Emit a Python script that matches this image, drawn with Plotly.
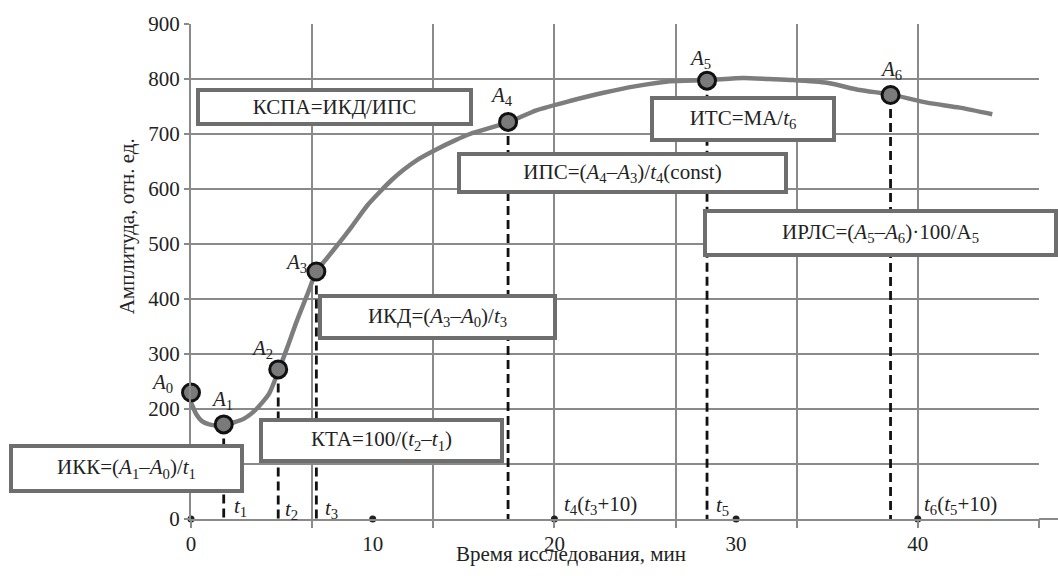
import plotly.graph_objects as go

# Measured amplitude curve (time, min -> amplitude, rel. units)
curve_t = [0, 0.3, 0.6, 1.0, 1.4, 1.8, 2.3, 2.9, 3.6, 4.3, 4.8, 5.3, 5.8, 6.4, 6.9,
           7.5, 8.2, 8.9, 9.7, 10.4, 11.0, 11.7, 12.5, 13.5, 14.5, 15.35, 17.45, 19.0,
           20.85, 22.7, 24.5, 26.35, 28.4, 30.4, 31.8, 33.1, 35.0, 36.8, 38.5, 40.5,
           42.3, 44.1]
curve_v = [212, 190, 178, 172, 170, 171, 175, 182, 200, 228, 268, 312, 358, 408, 450,
           475, 504, 534, 570, 595, 615, 635, 654, 672, 688, 700, 721, 743,
           760, 775, 787, 796, 798, 802, 800, 798, 793, 780, 772, 757,
           748, 736]

# Characteristic points A0..A6
point_names = ["A0", "A1", "A2", "A3", "A4", "A5", "A6"]
point_t = [0, 1.8, 4.8, 6.9, 17.45, 28.4, 38.5]
point_v = [230, 172, 272, 450, 722, 797, 771]

# Axis ticks
x_ticks = [0, 10, 20, 30, 40]
y_ticks = [0, 100, 200, 300, 400, 500, 600, 700, 800, 900]
grid_step = 20 / 3

SERIF = "'Liberation Serif', 'Times New Roman', Times, serif"
L, T, R, B = 191, 15, 1039, 519   # plot area in pixels


def px(x):
    return (x - L) / (R - L)


def py(y):
    return (B - y) / (B - T)


fig = go.Figure()

# dashed drop lines t1..t6
for t, v in zip(point_t[1:], point_v[1:]):
    fig.add_trace(go.Scatter(x=[t, t], y=[v, 0], mode="lines",
                             line=dict(color="#111", width=2.8, dash="9px,5px"),
                             hoverinfo="skip", showlegend=False))

# amplitude curve
fig.add_trace(go.Scatter(x=curve_t, y=curve_v, mode="lines",
                         line=dict(color="#7d7d7d", width=4.5, shape="spline", smoothing=0.6),
                         showlegend=False))

# characteristic points
fig.add_trace(go.Scatter(x=point_t, y=point_v, mode="markers",
                         marker=dict(size=17, color="#7a7a7a", line=dict(color="#111", width=3)),
                         cliponaxis=False, showlegend=False))

# dots on the time axis
fig.add_trace(go.Scatter(x=x_ticks, y=[0] * len(x_ticks), mode="markers",
                         marker=dict(size=7, color="#222"), cliponaxis=False, showlegend=False))

# helper trace for the grid axis
fig.add_trace(go.Scatter(x=[0], y=[0], xaxis="x2", mode="markers",
                         marker=dict(opacity=0), hoverinfo="skip", showlegend=False))

fig.update_layout(
    width=1058, height=576,
    margin=dict(l=L, r=1058 - R, t=T, b=576 - B),
    paper_bgcolor="white", plot_bgcolor="white",
    font=dict(family=SERIF, size=21, color="#222"),
    xaxis=dict(range=[0, 46.67], tickvals=x_ticks, showgrid=False, zeroline=False,
               showline=True, linecolor="#8a8a8a", linewidth=2,
               ticks="outside", ticklen=5, tickcolor="rgba(0,0,0,0)",
               tickfont=dict(family=SERIF, size=21, color="#222")),
    xaxis2=dict(range=[0, 46.67], overlaying="x", tick0=0, dtick=grid_step,
                showticklabels=False, showgrid=True, gridcolor="#8a8a8a", gridwidth=1.5,
                ticks="outside", ticklen=8, tickcolor="#8a8a8a", tickwidth=1.5,
                zeroline=False, side="bottom"),
    yaxis=dict(range=[0, 900], tickvals=y_ticks, showgrid=True, gridcolor="#8a8a8a",
               gridwidth=1.5, zeroline=False, showline=True, linecolor="#8a8a8a", linewidth=2,
               ticks="outside", ticklen=5, tickcolor="#8a8a8a", tickwidth=1.5,
               tickfont=dict(family=SERIF, size=21, color="#222")),
)

# extension of the time axis beyond the grid
fig.add_shape(type="line", xref="paper", yref="paper", x0=1, x1=px(1058), y0=0, y1=0,
              line=dict(color="#8a8a8a", width=2))


def label(text, x, y, size=21, **kw):
    fig.add_annotation(text=text, xref="paper", yref="paper", x=px(x), y=py(y),
                       xanchor="center", yanchor="middle", showarrow=False,
                       font=dict(family=SERIF, size=size, color="#222"), **kw)


# axis titles
label("Время исследования, мин", 571, 555)
label("Амплитуда, отн. ед.", 127, 221, textangle=-90)

# point labels
label_pos = [(162, 381), (222, 398), (262, 346), (296, 258), (501, 88), (700, 51), (891, 62)]
for name, (lx, ly) in zip(point_names, label_pos):
    label(f"<i>{name[0]}</i><sub>{name[1:]}</sub>", lx, ly)

# time labels
time_labels = [
    ("<i>t</i><sub>1</sub>", 240, 507),
    ("<i>t</i><sub>2</sub>", 291, 510),
    ("<i>t</i><sub>3</sub>", 331, 509),
    ("<i>t</i><sub>4</sub>(<i>t</i><sub>3</sub>+10)", 600, 505),
    ("<i>t</i><sub>5</sub>", 722, 506),
    ("<i>t</i><sub>6</sub>(<i>t</i><sub>5</sub>+10)", 960, 505),
]
for txt, lx, ly in time_labels:
    label(txt, lx, ly)

# formula boxes: text, left, top, right, bottom (pixels)
boxes = [
    ("КСПА=ИКД/ИПС", 196, 81, 473, 119),
    ("ИКД=(<i>A</i><sub>3</sub>–<i>A</i><sub>0</sub>)/<i>t</i><sub>3</sub>", 318, 290, 557, 336),
    ("КТА=100/(<i>t</i><sub>2</sub>–<i>t</i><sub>1</sub>)", 259, 417, 504, 462),
    ("ИКК=(<i>A</i><sub>1</sub>–<i>A</i><sub>0</sub>)/<i>t</i><sub>1</sub>", 9, 443, 244, 492),
    ("ИПС=(<i>A</i><sub>4</sub>–<i>A</i><sub>3</sub>)/<i>t</i><sub>4</sub>(const)", 457, 146, 788, 188),
    ("ИТС=МА/<i>t</i><sub>6</sub>", 650, 89, 836, 135),
    ("ИРЛС=(<i>A</i><sub>5</sub>–<i>A</i><sub>6</sub>)·100/A<sub>5</sub>", 703, 204, 1058, 252),
]
BW = 4
for txt, x0, y0, x1, y1 in boxes:
    label(txt, (x0 + x1) / 2, (y0 + y1) / 2,
          width=x1 - x0 - 2 * BW, height=y1 - y0 - 2 * BW,
          bgcolor="white", bordercolor="#6e6e6e", borderwidth=BW, borderpad=0)

fig.write_html("out.html")
